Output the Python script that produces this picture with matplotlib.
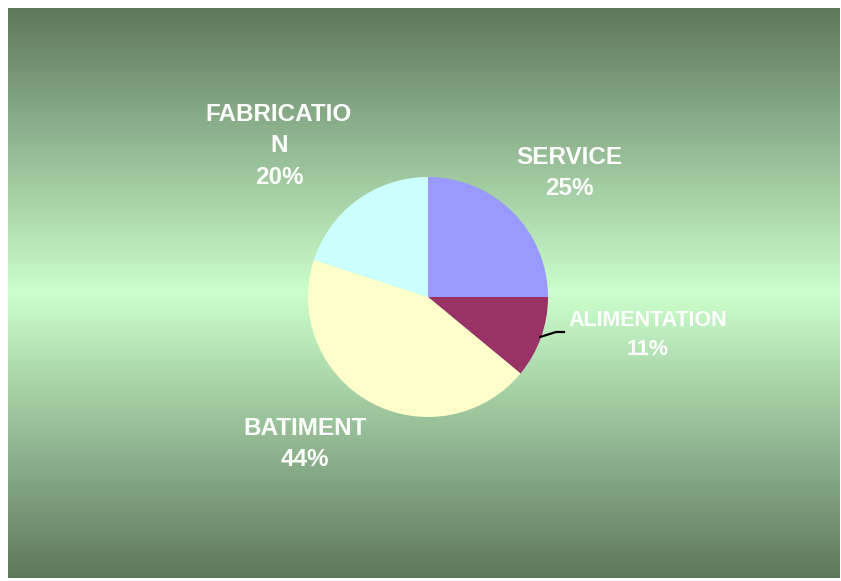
import numpy as np
import matplotlib.pyplot as plt
from matplotlib.colors import LinearSegmentedColormap

# données du camembert
secteurs = ["SERVICE", "ALIMENTATION", "BATIMENT", "FABRICATION"]
parts = [25, 11, 44, 20]
couleurs = ["#9999FF", "#993366", "#FFFFCC", "#CCFFFF"]
etiquettes = ["SERVICE\n25%", "ALIMENTATION\n11%", "BATIMENT\n44%", "FABRICATIO\nN\n20%"]

W, H = 841, 581
fig = plt.figure(figsize=(W / 100, H / 100), dpi=100)
ax = fig.add_axes([0, 0, 1, 1])

# fond dégradé vert (foncé en haut/bas, clair au milieu)
fond = LinearSegmentedColormap.from_list("fond", ["#5E785E", "#CCFFCC", "#5E785E"])
grad = np.linspace(0, 1, 256).reshape(-1, 1)
ax.imshow(grad, cmap=fond, extent=(8, 840, 3, 573), aspect="auto", zorder=0)

# camembert
cx, cy, r = 428, H - 297, 120
ax.pie(parts, colors=couleurs, startangle=90, counterclock=False,
       center=(cx, cy), radius=r, wedgeprops=dict(linewidth=0),
       frame=True)
ax.set_xlim(0, W)
ax.set_ylim(0, H)
ax.set_aspect("equal")
ax.axis("off")

# étiquettes
pos = [(569, H - 173), (648, H - 335), (305, H - 444), (279, H - 146)]
tailles = [17.5, 15.5, 17.5, 17.5]
interlignes = [1.42, 1.45, 1.42, 1.45]
for txt, (x, y), t, il in zip(etiquettes, pos, tailles, interlignes):
    ax.text(x, y, txt, ha="center", va="center", color="white",
            fontsize=t, fontweight="bold", family="Liberation Sans",
            linespacing=il, zorder=5)

# trait de rappel ALIMENTATION
ax.plot([540, 548, 556, 564], [H - 337, H - 334.5, H - 332, H - 332],
        color="black", lw=1.6, zorder=4)

fig.savefig("out.png", dpi=100)
